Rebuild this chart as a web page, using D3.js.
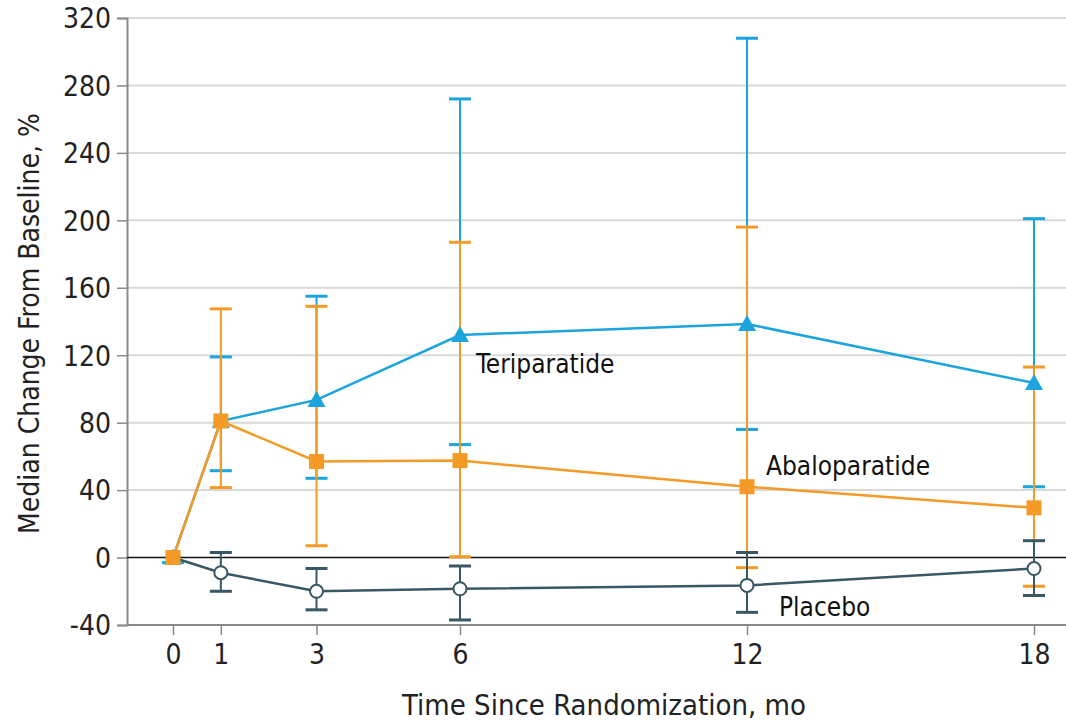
<!DOCTYPE html>
<html>
<head>
<meta charset="utf-8">
<script src="https://cdn.jsdelivr.net/npm/d3@7"></script>
<style>
	body { margin: 0; background: #fff; }
	svg text { font-family: "Liberation Sans Narrow", "DejaVu Sans Condensed", sans-serif; }
</style>
</head>
<body>
<svg id="chart" width="1066" height="725"></svg>
<script>
// months on the x axis
const months = [0, 1, 3, 6, 12, 18];
const yTicks = [-40, 0, 40, 80, 120, 160, 200, 240, 280, 320];

// median change from baseline, with the error bar ends
const teriMedian = [0, 81, 93.5, 132, 138.5, 103.5];
const teriLow = [-3, 51.5, 47, 67, 76, 42];
const teriHigh = [0, 119, 155, 272, 308, 201];

const abaloMedian = [0, 81, 57, 57.5, 42, 29.5];
const abaloLow = [0, 41.5, 7, 0.5, -6, -17];
const abaloHigh = [0, 147.5, 149, 187, 196, 113];

const placeboMedian = [0, -9, -20, -18.5, -16.5, -6.5];
const placeboLow = [0, -20, -31, -37, -32.5, -22.5];
const placeboHigh = [0, 3, -6.5, -5, 3, 10];

const svg = d3.select("svg#chart");
const width = +svg.attr("width");
const height = +svg.attr("height");
const margin = { top: 18, right: 0, bottom: 100, left: 127 };

const x = d3.scaleLinear().domain([0, 18]).range([173, 1034]);
const y = d3
	.scaleLinear()
	.domain([-40, 320])
	.range([height - margin.bottom, margin.top]);

// gridlines
svg
	.append("g")
	.selectAll("line")
	.data(yTicks.filter((d) => d !== 0 && d !== -40))
	.join("line")
	.attr("x1", margin.left)
	.attr("x2", width)
	.attr("y1", (d) => y(d))
	.attr("y2", (d) => y(d))
	.attr("stroke", "#d9d9d9")
	.attr("stroke-width", 2);

// y axis
const leftAxis = d3
	.axisLeft(y)
	.tickValues(yTicks)
	.tickFormat((d) => String(d))
	.tickSize(10)
	.tickPadding(6);
const yAxis = svg
	.append("g")
	.attr("transform", `translate(${margin.left},0)`)
	.call(leftAxis);
yAxis.select(".domain").attr("stroke", "#8a8a8a").attr("stroke-width", 2);
yAxis.selectAll(".tick line").attr("stroke", "#8a8a8a").attr("stroke-width", 1.5);
yAxis
	.selectAll(".tick text")
	.attr("font-size", 28)
	.attr("fill", "#222")
	.attr("dy", "0.35em");

// x axis
const bottomAxis = d3.axisBottom(x).tickValues(months).tickSize(10).tickPadding(8);
const xAxis = svg
	.append("g")
	.attr("transform", `translate(0,${y(-40)})`)
	.call(bottomAxis);
xAxis.select(".domain").remove();
xAxis
	.append("line")
	.attr("x1", margin.left)
	.attr("x2", width)
	.attr("stroke", "#8a8a8a")
	.attr("stroke-width", 2);
xAxis.selectAll(".tick line").attr("stroke", "#8a8a8a").attr("stroke-width", 1.5);
xAxis
	.selectAll(".tick text")
	.attr("font-size", 28)
	.attr("fill", "#222")
	.attr("dy", "0.75em");

// zero line
svg
	.append("line")
	.attr("x1", margin.left)
	.attr("x2", width)
	.attr("y1", y(0))
	.attr("y2", y(0))
	.attr("stroke", "#111")
	.attr("stroke-width", 1.5);

// axis titles
svg
	.append("text")
	.attr("transform", `translate(39,${(y(320) + y(-40)) / 2 + 2}) rotate(-90)`)
	.attr("text-anchor", "middle")
	.attr("font-size", 28)
	.attr("fill", "#222")
	.text("Median Change From Baseline, %");

svg
	.append("text")
	.attr("x", 604)
	.attr("y", 715)
	.attr("text-anchor", "middle")
	.attr("font-size", 29)
	.attr("fill", "#222")
	.text("Time Since Randomization, mo");

const series = [
	{ med: teriMedian, lo: teriLow, hi: teriHigh, color: "#1ba4de", shape: "tri" },
	{ med: abaloMedian, lo: abaloLow, hi: abaloHigh, color: "#f49a26", shape: "sq" },
	{ med: placeboMedian, lo: placeboLow, hi: placeboHigh, color: "#3a5864", shape: "circ" },
];

// error bars first
series.forEach((s) => {
	const eb = svg.append("g").attr("stroke", s.color).attr("stroke-width", 2);
	months.forEach((m, i) => {
		if (s.lo[i] === s.hi[i] && s.lo[i] === 0) return;
		eb.append("line")
			.attr("x1", x(m))
			.attr("x2", x(m))
			.attr("y1", y(s.lo[i]))
			.attr("y2", y(s.hi[i]));
		eb.append("line")
			.attr("x1", x(m) - 11)
			.attr("x2", x(m) + 11)
			.attr("y1", y(s.lo[i]))
			.attr("y2", y(s.lo[i]))
			.attr("stroke-width", 3);
		if (s.hi[i] !== 0 || s.lo[i] === 0) {
			eb.append("line")
				.attr("x1", x(m) - 11)
				.attr("x2", x(m) + 11)
				.attr("y1", y(s.hi[i]))
				.attr("y2", y(s.hi[i]))
				.attr("stroke-width", 3);
		}
	});
});

// lines and markers, placebo first so orange square covers the start
const line = d3
	.line()
	.x((d, i) => x(months[i]))
	.y((d) => y(d));

[series[2], series[0], series[1]].forEach((s) => {
	svg
		.append("path")
		.datum(s.med)
		.attr("fill", "none")
		.attr("stroke", s.color)
		.attr("stroke-width", 2.5)
		.attr("d", line);

	const pts = svg.append("g");
	s.med.forEach((v, i) => {
		const cx = x(months[i]);
		const cy = y(v);
		if (s.shape === "tri") {
			pts.append("path")
				.attr("d", `M${cx},${cy - 9}L${cx + 9},${cy + 7}L${cx - 9},${cy + 7}Z`)
				.attr("fill", s.color);
		} else if (s.shape === "sq") {
			pts.append("rect")
				.attr("x", cx - 7.5)
				.attr("y", cy - 7.5)
				.attr("width", 15)
				.attr("height", 15)
				.attr("fill", s.color);
		} else {
			pts.append("circle")
				.attr("cx", cx)
				.attr("cy", cy)
				.attr("r", 6.5)
				.attr("fill", "#fff")
				.attr("stroke", s.color)
				.attr("stroke-width", 2);
		}
	});
});

// series labels
const labels = svg.append("g").attr("font-size", 26).attr("fill", "#111");
labels.append("text").attr("x", 476).attr("y", 373).text("Teriparatide");
labels.append("text").attr("x", 766).attr("y", 475).text("Abaloparatide");
labels.append("text").attr("x", 779).attr("y", 616).text("Placebo");
</script>
</body>
</html>
